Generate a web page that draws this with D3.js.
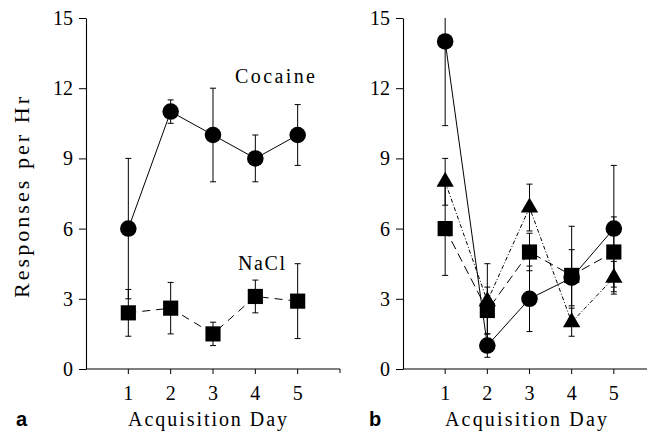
<!DOCTYPE html>
<html>
<head>
<meta charset="utf-8">
<script src="https://cdn.jsdelivr.net/npm/d3@7"></script>
<style>
  body { margin: 0; background: #fff; }
  svg { display: block; }
</style>
</head>
<body>
<script>
// data
const days = [1, 2, 3, 4, 5];
const yTicks = [0, 3, 6, 9, 12, 15];

// panel a
const cocaineA = [6, 11, 10, 9, 10];
const cocaineAErr = [3, 0.5, 2, 1, 1.3];
const naclA = [2.4, 2.6, 1.5, 3.1, 2.9];
const naclAErr = [1.0, 1.1, 0.5, 0.7, 1.6];

// panel b
const circleB = [14, 1.0, 3.0, 3.9, 6.0];
const circleBErr = [3.6, 0.5, 1.4, 1.2, 2.7];
const squareB = [6, 2.5, 5, 4, 5];
const squareBErr = [2.0, 1.0, 0.8, 2.1, 1.5];
const triangleB = [8, 2.9, 6.9, 2, 3.9];
const triangleBErr = [1.0, 1.6, 1.0, 0.6, 0.7];

const W = 647, H = 432;
const font = "'Liberation Serif', serif";

const svg = d3.select("body").append("svg")
  .attr("width", W)
  .attr("height", H)
  .attr("viewBox", [0, 0, W, H]);

const y = d3.scaleLinear().domain([0, 15]).range([369, 18]);

function drawPanel (left, right, axisEnd, series, tickLabelX) {
  const x = d3.scaleLinear().domain([0, 6]).range([left, right]);
  const g = svg.append("g");

  // y axis
  g.append("g")
    .attr("transform", `translate(${left},0)`)
    .call(d3.axisLeft(y).tickValues(yTicks).tickSize(7).tickPadding(left - tickLabelX - 7).tickSizeOuter(0))
    .call(a => a.select(".domain").attr("stroke-width", 1.1))
    .call(a => a.selectAll("text")
      .attr("font-family", font)
      .attr("font-size", 20)
      .attr("fill", "#000"));

  // x axis
  const xa = g.append("g")
    .attr("transform", `translate(0,${y(0)})`);
  xa.append("line")
    .attr("x1", left).attr("x2", axisEnd)
    .attr("stroke", "#000").attr("stroke-width", 1.1);
  if (axisEnd < W) {
    xa.append("line")
      .attr("x1", axisEnd).attr("x2", axisEnd)
      .attr("y1", 0).attr("y2", 4)
      .attr("stroke", "#000");
  }
  xa.selectAll(".xt")
    .data(days)
    .join("line")
      .attr("x1", d => x(d)).attr("x2", d => x(d))
      .attr("y1", 0).attr("y2", 5)
      .attr("stroke", "#000");
  xa.selectAll(".xl")
    .data(days)
    .join("text")
      .attr("x", d => x(d))
      .attr("y", 31)
      .attr("text-anchor", "middle")
      .attr("font-family", font)
      .attr("font-size", 20)
      .text(d => d);

  // error bars
  series.forEach(s => {
    const eg = g.append("g").attr("stroke", "#000").attr("stroke-width", 1);
    s.values.forEach((v, i) => {
      const lo = v - s.err[i], hi = v + s.err[i];
      const cx = x(days[i]);
      eg.append("line")
        .attr("x1", cx).attr("x2", cx)
        .attr("y1", y(Math.max(0, lo))).attr("y2", y(Math.min(15, hi)));
      [lo, hi].forEach(e => {
        if (e >= 0 && e <= 15) {
          eg.append("line")
            .attr("x1", cx - 3).attr("x2", cx + 3)
            .attr("y1", y(e)).attr("y2", y(e));
        }
      });
    });
  });

  // connecting lines
  const line = d3.line().x((d, i) => x(days[i])).y(d => y(d));
  series.forEach(s => {
    g.append("path")
      .attr("d", line(s.values))
      .attr("fill", "none")
      .attr("stroke", "#000")
      .attr("stroke-width", 1)
      .attr("stroke-dasharray", s.dash);
  });

  // markers
  series.forEach(s => {
    g.append("g")
      .selectAll("path")
      .data(s.values)
      .join("path")
        .attr("transform", (d, i) => `translate(${x(days[i])},${y(d)})`)
        .attr("d", d3.symbol().type(s.symbol).size(s.size))
        .attr("fill", "#000");
  });

  return x;
}

drawPanel(86, 340, 340, [
  { values: naclA, err: naclAErr, symbol: d3.symbolSquare, size: 230, dash: "8,6" },
  { values: cocaineA, err: cocaineAErr, symbol: d3.symbolCircle, size: 215, dash: null }
], 73);

drawPanel(403, 656, W, [
  { values: triangleB, err: triangleBErr, symbol: d3.symbolTriangle, size: 130, dash: "4,2,1,2" },
  { values: squareB, err: squareBErr, symbol: d3.symbolSquare, size: 230, dash: "9,5" },
  { values: circleB, err: circleBErr, symbol: d3.symbolCircle, size: 215, dash: null }
], 390);

// texts
function label (txt, x, yy, len, size, anchor = "start") {
  return svg.append("text")
    .attr("x", x).attr("y", yy)
    .attr("font-family", font)
    .attr("font-size", size)
    .attr("text-anchor", anchor)
    .attr("textLength", len)
    .attr("lengthAdjust", "spacing")
    .text(txt);
}

label("Cocaine", 235, 83, 80, 20);
label("NaCl", 238, 270, 47, 20);
label("Acquisition Day", 128, 426, 159, 20);
label("Acquisition Day", 445, 426, 162, 20);

svg.append("text")
  .attr("transform", "translate(29,298) rotate(-90)")
  .attr("font-family", font)
  .attr("font-size", 22)
  .attr("textLength", 201)
  .attr("lengthAdjust", "spacing")
  .text("Responses per Hr");

svg.append("text")
  .attr("x", 16).attr("y", 426)
  .attr("font-family", "'Liberation Sans', sans-serif")
  .attr("font-weight", "bold")
  .attr("font-size", 20)
  .text("a");

svg.append("text")
  .attr("x", 369).attr("y", 426)
  .attr("font-family", "'Liberation Sans', sans-serif")
  .attr("font-weight", "bold")
  .attr("font-size", 20)
  .text("b");
</script>
</body>
</html>
